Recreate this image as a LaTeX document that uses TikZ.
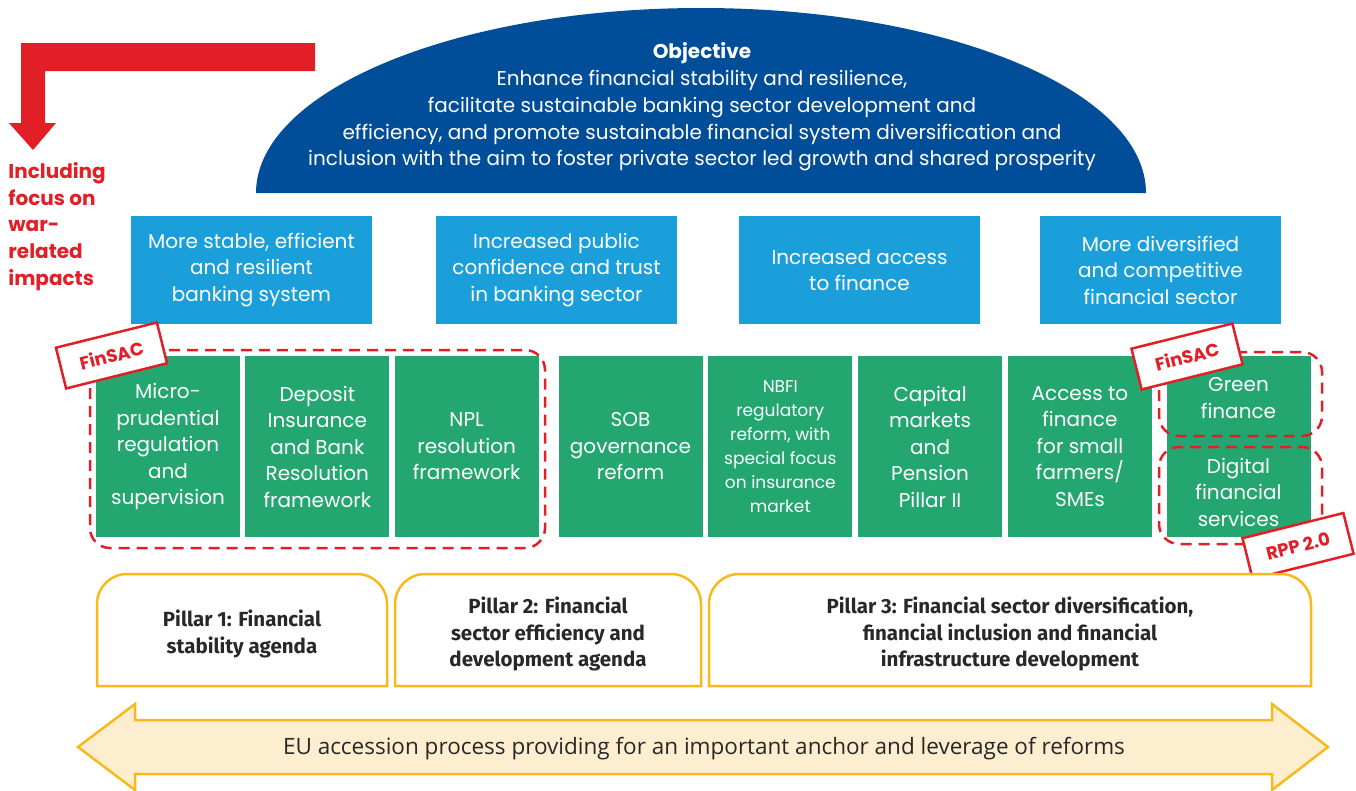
\documentclass[tikz,border=0pt]{standalone}
\usepackage{fontspec}
\setmainfont{Poppins}
\newfontfamily\pillarfont{Fira Sans}
\newfontfamily\eufont{Open Sans}
\usepackage{tikz}
\usetikzlibrary{positioning}
\definecolor{domeblue}{RGB}{0,77,153}
\definecolor{skyblue}{RGB}{27,159,219}
\definecolor{leaf}{RGB}{35,166,112}
\definecolor{alarm}{RGB}{226,30,38}
\definecolor{amber}{RGB}{248,185,27}
\definecolor{cream}{RGB}{253,238,208}
\definecolor{ink}{RGB}{40,40,40}

\begin{document}
\begin{tikzpicture}[x=1pt,y=-1pt,thick]
\tikzstyle{goal}=[fill=skyblue,text=white,minimum width=241pt,minimum height=108pt,align=center,font=\fontsize{20}{26.5}\selectfont]
\tikzstyle{reform}=[fill=leaf,text=white,minimum width=144pt,minimum height=181pt,inner sep=0pt,align=center,font=\fontsize{20}{26.5}\selectfont]
\tikzstyle{tag}=[draw=alarm,line width=2.5pt,fill=white,text=alarm,rotate=14,minimum width=104pt,minimum height=42pt,inner sep=0pt,font=\bfseries\fontsize{18}{18}\selectfont]
\tikzstyle{ring}=[alarm,line width=2.5pt,dash pattern=on 11pt off 7pt,rounded corners=20pt]
\tikzstyle{tab}=[amber,line width=2.5pt,fill=white]
\tikzstyle{pillar}=[text=ink,align=center,font=\pillarfont\bfseries\fontsize{20.5}{26.8}\selectfont]
\useasboundingbox(0,0)rectangle(1356,790);

  % red arrow and note
  \fill[alarm](21,43)--(315,43)--(315,71)--(45,71)--(45,123)--(56,123)--(33,150)--(9,123)--(21,123)--cycle;
  \node(war)at(8,226.5)[anchor=west,align=left,inner sep=0pt,text=alarm,font=\bfseries\fontsize{20}{26.8}\selectfont]{Including\\focus on\\war-\\related\\impacts};

  % objective
  \fill[domeblue](256,193)..controls(256,91)and(455,8)..(701,8)..controls(947,8)and(1146,91)..(1146,193)--cycle;
  \node(aim)at(702,107)[text=white,align=center,font=\fontsize{20}{26.8}\selectfont]{\textbf{Objective}\\Enhance financial stability and resilience,\\facilitate sustainable banking sector development and\\efficiency, and promote sustainable financial system diversification and\\inclusion with the aim to foster private sector led growth and shared prosperity};

  % goals
  \node(g1)at(251.5,270)[goal]{More stable, efficient\\and resilient\\banking system};
  \node(g2)at(556.5,270)[goal]{Increased public\\confidence and trust\\in banking sector};
  \node(g3)at(859.5,270)[goal]{Increased access\\to finance};
  \node(g4)at(1160.5,270)[goal]{More diversified\\and competitive\\financial sector};

  % reforms
  \node(r1)at(168,446.5)[reform]{Micro-\\prudential\\regulation\\and\\supervision};
  \node(r2)[reform,right=4.5pt of r1]{Deposit\\Insurance\\and Bank\\Resolution\\framework};
  \node(r3)[reform,right=4.5pt of r2]{NPL\\resolution\\framework};
  \node(r4)at(630.5,446.5)[reform]{SOB\\governance\\reform};
  \node(r5)[reform,right=5pt of r4,font=\fontsize{17}{24}\selectfont]{NBFI\\regulatory\\reform, with\\special focus\\on insurance\\market};
  \node(r6)[reform,right=5pt of r5]{Capital\\markets\\and\\Pension\\Pillar II};
  \node(r7)[reform,right=5pt of r6]{Access to\\finance\\for small\\farmers/\\SMEs};
  \node(r8)at(1238.5,446.5)[reform]{};
  \node(green)at(1238.5,398)[text=white,align=center,font=\fontsize{20}{26.5}\selectfont]{Green\\finance};
  \node(digital)at(1238.5,492)[text=white,align=center,font=\fontsize{20}{26.5}\selectfont]{Digital\\financial\\services};

  % programme rings and tags
  \draw[ring](90,350)rectangle(545,548);
  \draw[ring](1159,352)rectangle(1322,436);
  \draw[ring](1159,447)rectangle(1322,544);
  \node(finsac1)at(111.5,355.5)[tag]{FinSAC};
  \node(finsac2)at(1187,356.5)[tag]{FinSAC};
  \node(rpp)at(1298,546)[tag]{RPP 2.0};

  % pillars
  \draw[tab](97,686)--(97,604)arc[start angle=180,end angle=90,radius=30pt]--(357,574)arc[start angle=90,end angle=0,radius=30pt]--(387,686)--cycle;
  \draw[tab](395,686)--(395,604)arc[start angle=180,end angle=90,radius=30pt]--(671,574)arc[start angle=90,end angle=0,radius=30pt]--(701,686)--cycle;
  \draw[tab](709,686)--(709,604)arc[start angle=180,end angle=90,radius=30pt]--(1281,574)arc[start angle=90,end angle=0,radius=30pt]--(1311,686)--cycle;
  \node(p1)at(242,634)[pillar]{Pillar 1: Financial\\stability agenda};
  \node(p2)at(548,634)[pillar]{Pillar 2: Financial\\sector efficiency and\\development agenda};
  \node(p3)at(1010,634)[pillar]{Pillar 3: Financial sector diversification,\\financial inclusion and financial\\infrastructure development};

  % EU anchor
  \filldraw[amber,fill=cream,line width=2.5pt](78,747)--(135,704)--(135,720)--(1272,720)--(1272,704)--(1328,747)--(1272,790)--(1272,774)--(135,774)--(135,790)--cycle;
  \node(eu)at(704,749)[text=ink,font=\eufont\fontsize{22.5}{22.5}\selectfont]{EU accession process providing for an important anchor and leverage of reforms};
\end{tikzpicture}
\end{document}
